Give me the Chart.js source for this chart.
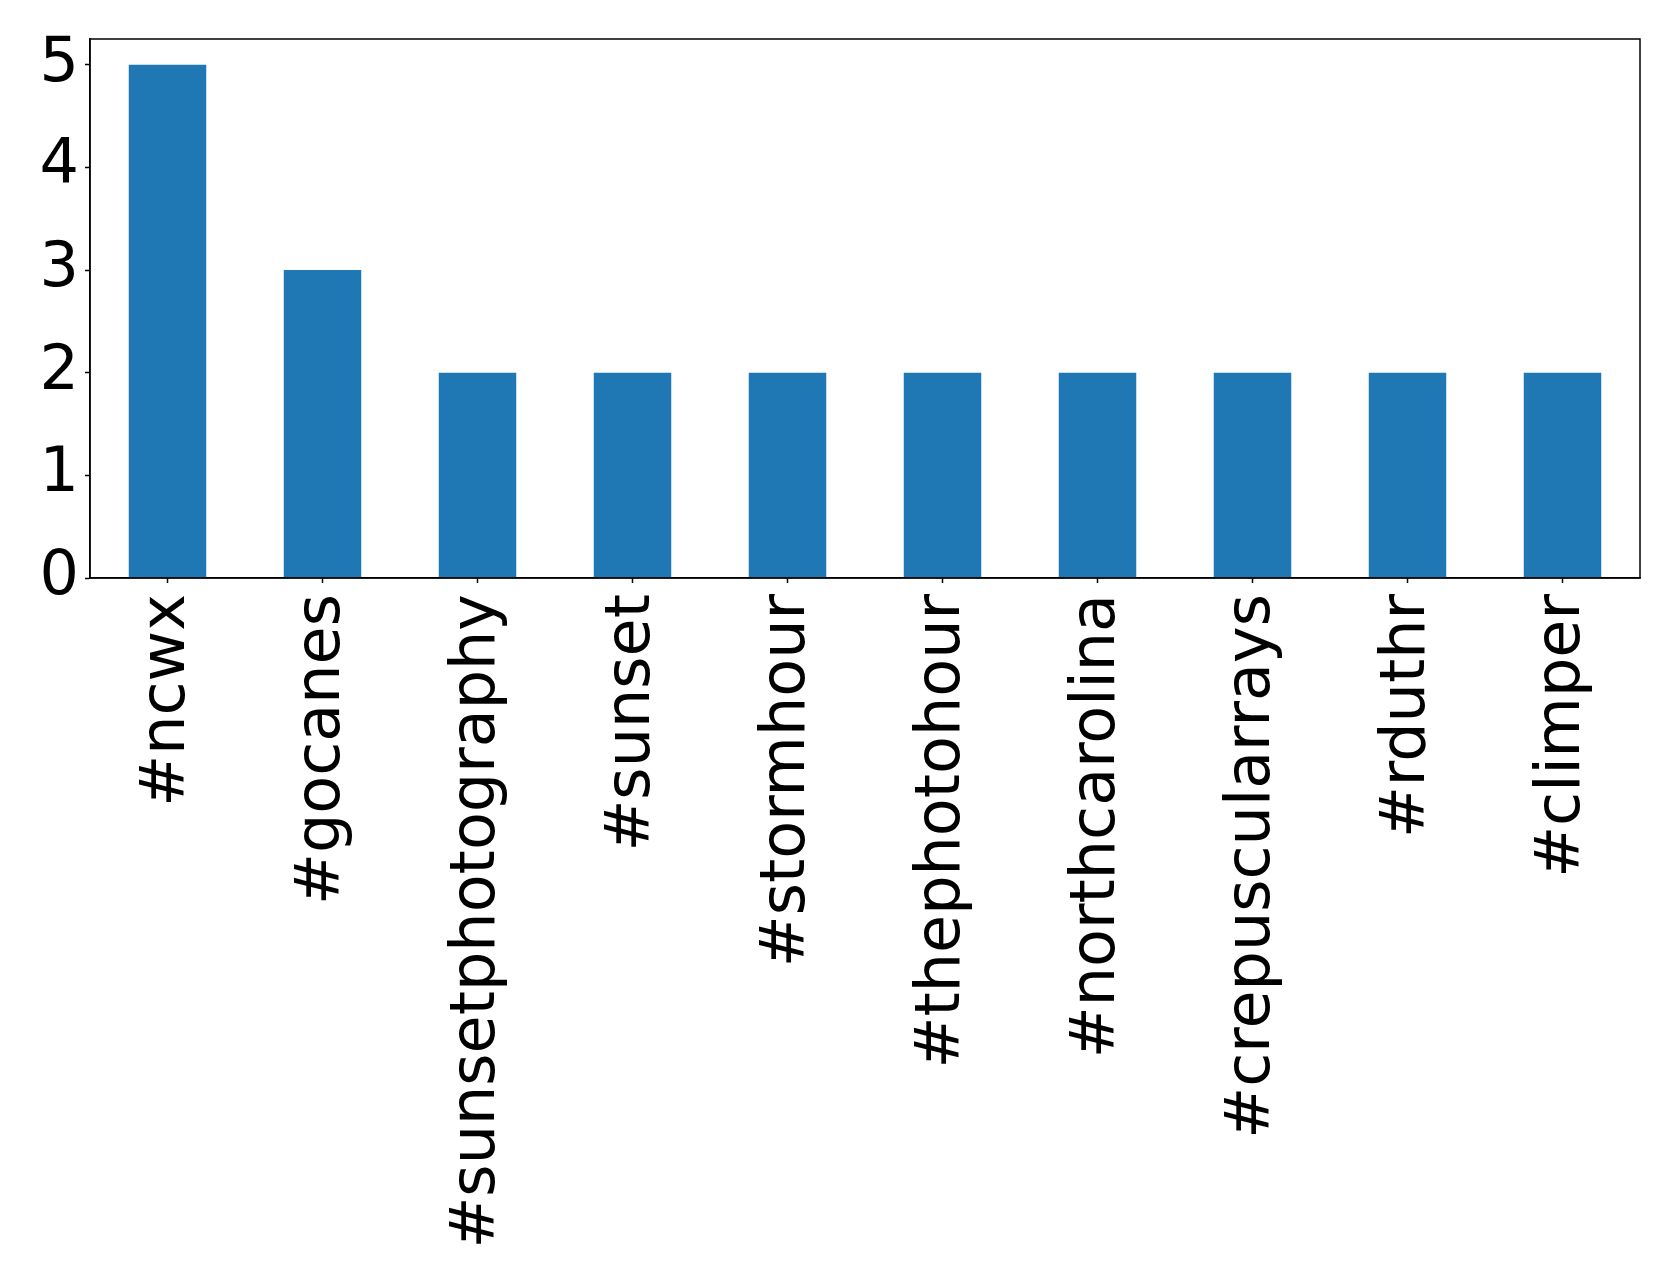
<!DOCTYPE html>
<html>
<head>
<meta charset="utf-8">
<script src="https://cdn.jsdelivr.net/npm/chart.js@4"></script>
<style>
  html, body { margin: 0; padding: 0; background: #ffffff; }
  #wrap { width: 1679px; height: 1287px; }
</style>
</head>
<body>
<div id="wrap"><canvas id="c" width="1679" height="1287"></canvas></div>
<script>
const categories = ["#ncwx", "#gocanes", "#sunsetphotography", "#sunset", "#stormhour",
                    "#thephotohour", "#northcarolina", "#crepuscularrays", "#rduthr", "#climper"];
const counts = [5, 3, 2, 2, 2, 2, 2, 2, 2, 2];
const yTicks = [0, 1, 2, 3, 4, 5];

const frame = {
  id: 'frame',
  afterDraw(chart) {
    const a = chart.chartArea, ctx = chart.ctx;
    ctx.save();
    ctx.strokeStyle = '#000';
    ctx.lineWidth = 1.5;
    ctx.strokeRect(a.left, a.top, a.right - a.left, a.bottom - a.top);
    ctx.restore();
  }
};

new Chart(document.getElementById('c'), {
  type: 'bar',
  data: {
    labels: categories,
    datasets: [{
      data: counts,
      backgroundColor: '#1f77b4',
      borderWidth: 0,
      categoryPercentage: 0.5,
      barPercentage: 1.0
    }]
  },
  options: {
    responsive: false,
    devicePixelRatio: 1,
    animation: false,
    layout: { padding: { top: 39, right: 39, left: 0, bottom: 0 } },
    plugins: { legend: { display: false }, tooltip: { enabled: false } },
    scales: {
      x: {
        offset: true,
        grid: { display: true, offset: false, drawOnChartArea: false, tickLength: 5, tickColor: '#000', tickWidth: 1.5 },
        border: { display: true, color: '#000', width: 1.5 },
        ticks: {
          autoSkip: false, minRotation: 90, maxRotation: 90, padding: 11,
          color: '#000', font: { family: 'DejaVu Sans', size: 62 }
        },
        afterFit(s) { s.height = 709; s.paddingLeft = 0; s.paddingRight = 0; }
      },
      y: {
        min: 0, max: 5.25,
        grid: { display: true, drawOnChartArea: false, tickLength: 5, tickColor: '#000', tickWidth: 1.5 },
        border: { display: true, color: '#000', width: 1.5 },
        ticks: {
          stepSize: 1, padding: 6, color: '#000',
          font: { family: 'DejaVu Sans', size: 62 }
        },
        afterBuildTicks(s) { s.ticks = yTicks.map(v => ({ value: v })); },
        afterFit(s) { s.width = 90; s.paddingTop = 0; s.paddingBottom = 0; }
      }
    }
  },
  plugins: [frame]
});
</script>
</body>
</html>
